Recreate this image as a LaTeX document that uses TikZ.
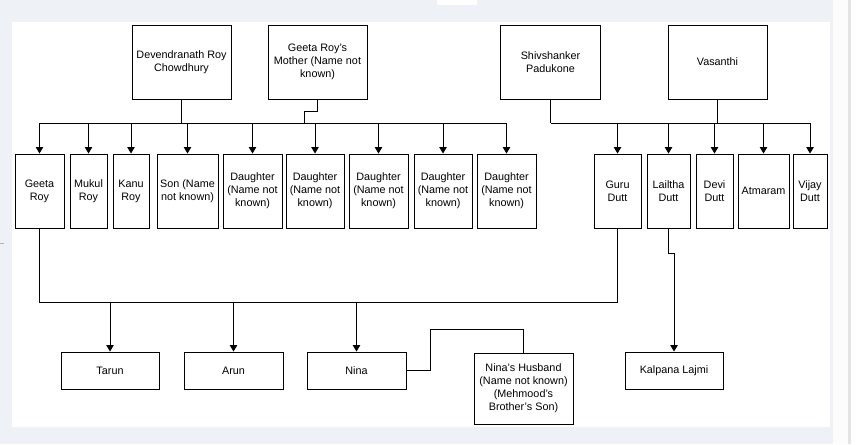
\documentclass[tikz,border=0pt]{standalone}
\usepackage{fontspec}
\setmainfont{Liberation Sans}
\usetikzlibrary{arrows.meta}
\definecolor{bgcol}{RGB}{238,241,245}
\definecolor{edgecol}{RGB}{226,228,230}
\begin{document}
\begin{tikzpicture}[x=1pt,y=-1pt,
  box/.style={draw=black, line width=0.95pt, fill=white, inner sep=0pt, align=center,
    font=\fontsize{10.8}{13}\selectfont},
  link/.style={draw=black, line width=0.95pt},
  arr/.style={link, -{Triangle[width=7.5pt,length=6.5pt]}}]
\useasboundingbox (0,0) rectangle (858,444);
% background
\fill[bgcol] (0,0) rectangle (858,444);
\fill[white] (12,22) rectangle (830,427);
\fill[white] (437,0) rectangle (477,5);
\fill[white!98!gray] (833,0) rectangle (848,444);
\fill[edgecol] (848,0) rectangle (851,444);
\fill[white] (851,0) rectangle (858,444);
\fill[gray!60] (0,242.5) rectangle (4,243.5);
% parents
\node[box, minimum width=99, minimum height=74] (dev) at (181.5,62) {Devendranath Roy\\Chowdhury};
\node[box, minimum width=99, minimum height=74] (mother) at (317.5,62) {Geeta Roy's\\Mother (Name not\\known)};
\node[box, minimum width=100, minimum height=74] (shiv) at (550.5,62) {Shivshanker\\Padukone};
\node[box, minimum width=99, minimum height=74] (vas) at (717.5,62) {Vasanthi};
% children row
\node[box, minimum width=49, minimum height=74] (geeta) at (39.5,191) {Geeta\\Roy};
\node[box, minimum width=37, minimum height=74] (mukul) at (88.5,191) {Mukul\\Roy};
\node[box, minimum width=36, minimum height=74] (kanu) at (131,191) {Kanu\\Roy};
\node[box, minimum width=61, minimum height=74] (son) at (187.5,191) {Son (Name\\not known)};
\node[box, minimum width=59, minimum height=74] (d1) at (252.5,191) {Daughter\\(Name not\\known)};
\node[box, minimum width=58, minimum height=74] (d2) at (315,191) {Daughter\\(Name not\\known)};
\node[box, minimum width=59, minimum height=74] (d3) at (378.5,191) {Daughter\\(Name not\\known)};
\node[box, minimum width=58, minimum height=74] (d4) at (443,191) {Daughter\\(Name not\\known)};
\node[box, minimum width=59, minimum height=74] (d5) at (506.5,191) {Daughter\\(Name not\\known)};
\node[box, minimum width=47, minimum height=74] (guru) at (617.5,191) {Guru\\Dutt};
\node[box, minimum width=43, minimum height=74] (lailtha) at (668.5,191) {Lailtha\\Dutt};
\node[box, minimum width=37, minimum height=74] (devi) at (714.5,191) {Devi\\Dutt};
\node[box, minimum width=51, minimum height=74] (atmaram) at (763.5,191) {Atmaram};
\node[box, minimum width=34, minimum height=74] (vijay) at (810,191) {Vijay\\Dutt};
% grandchildren row
\node[box, minimum width=98, minimum height=37] (tarun) at (110,370.5) {Tarun};
\node[box, minimum width=99, minimum height=37] (arun) at (233.5,370.5) {Arun};
\node[box, minimum width=99, minimum height=37] (nina) at (356.5,370.5) {Nina};
\node[box, minimum width=99, minimum height=71] (husband) at (523.5,388.5) {Nina's Husband\\(Name not known)\\(Mehmood's\\Brother's Son)};
\node[box, minimum width=98, minimum height=37] (kalpana) at (674,370.5) {Kalpana Lajmi};
% helper coordinates
\coordinate (b1) at (181.5,123);
\coordinate (m1) at (304,111);
\coordinate (b2) at (550.5,123);
\coordinate (b3) at (0,302);
\coordinate (h1) at (430,329);
\coordinate (k1) at (668.5,253);
% Roy family
\draw[link] (dev.south) -- (b1);
\draw[link] (mother.south) |- (m1) -- (m1 |- b1);
\draw[link] (geeta.north |- b1) -- (d5.north |- b1);
\foreach \c in {geeta,mukul,kanu,son,d1,d2,d3,d4,d5}
  \draw[arr] (\c.north |- b1) -- (\c.north);
% Dutt family
\draw[link] (shiv.south) -- (b2);
\draw[link] (vas.south) -- (vas.south |- b2);
\draw[link] (b2) -- (vijay.north |- b2);
\foreach \c in {guru,lailtha,devi,atmaram,vijay}
  \draw[arr] (\c.north |- b2) -- (\c.north);
% Geeta Roy & Guru Dutt
\draw[link] (geeta.south) -- (geeta.south |- b3) -- (guru.south |- b3) -- (guru.south);
\foreach \c in {tarun,arun,nina}
  \draw[arr] (\c.north |- b3) -- (\c.north);
% Nina & husband
\draw[link] (nina.east) -| (h1) -| (husband.north);
% Lailtha -> Kalpana
\draw[arr] (lailtha.south) -- (k1) -| (kalpana.north);
\end{tikzpicture}
\end{document}
